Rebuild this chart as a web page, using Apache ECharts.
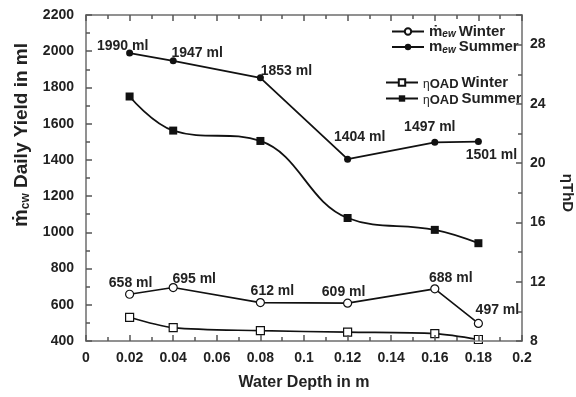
<!DOCTYPE html>
<html>
<head>
<meta charset="utf-8">
<script src="https://cdn.jsdelivr.net/npm/echarts@6/dist/echarts.min.js"></script>
<style>
  html, body { margin: 0; padding: 0; background: #fff; }
  #chart { width: 576px; height: 397px; }
</style>
</head>
<body>
<div id="chart"></div>
<script>
// water depth (m)
var depths = [0.02, 0.04, 0.08, 0.12, 0.16, 0.18];
// daily yield (ml)
var yieldWinter = [658, 695, 612, 609, 688, 497];
var yieldSummer = [1990, 1947, 1853, 1404, 1497, 1501];
// overall efficiency (%), right axis
var effWinter = [9.6, 8.9, 8.7, 8.6, 8.5, 8.1];
var effSummer = [24.5, 22.2, 21.5, 16.3, 15.5, 14.6];

// label offsets from each point
var offWinter = [[1, -11], [21, -8], [12, -11], [-4, -11], [16, -11], [19, -13]];
var offSummer = [[-7, -7], [24, -8], [26, -7], [12, -22], [-5, -15], [13, 14]];

function pairs(ys, offs) {
  return depths.map(function (d, i) {
    var item = { value: [d, ys[i]] };
    if (offs) item.label = { offset: offs[i] };
    return item;
  });
}

var font = 'Liberation Sans, Arial, sans-serif';
var axisGray = '#8a8a8a';
var tickGray = '#555';
var txt = { fontFamily: font, fontWeight: 'bold', color: '#222' };

var legendRich = {
  m: { fontFamily: font, fontWeight: 'bold', fontSize: 15, color: '#222' },
  s: { fontFamily: font, fontWeight: 'bold', fontStyle: 'italic', fontSize: 10, color: '#222', padding: [6, 0, 0, 0] },
  e: { fontFamily: font, fontSize: 12, color: '#222', padding: [4, 0, 0, 0] },
  o: { fontFamily: font, fontWeight: 'bold', fontSize: 13, color: '#222', padding: [4, 0, 0, 0] },
  t: { fontFamily: font, fontWeight: 'bold', fontSize: 15, color: '#222', padding: [0, 0, 0, 3] }
};
var legendText = {
  'mew Winter': '{m|ṁ}{s|ew}{t|Winter}',
  'mew Summer': '{m|m}{s|ew}{t|Summer}',
  'OAD Winter': '{e|η}{o|OAD}{t|Winter}',
  'OAD Summer': '{e|η}{o|OAD}{t|Summer}'
};

var labelBase = {
  show: true,
  position: 'inside',
  fontFamily: font,
  fontWeight: 'bold',
  fontSize: 14,
  color: '#222',
  formatter: function (p) { return p.value[1] + ' ml'; }
};

var plain = function (v) { return String(v); };
function tick() { return { show: true, inside: true, length: 6, lineStyle: { color: tickGray, width: 1.5 } }; }
function minor() { return { show: true, splitNumber: 2, length: 4, lineStyle: { color: tickGray, width: 1.5 } }; }

var chart = echarts.init(document.getElementById('chart'));
chart.setOption({
  backgroundColor: '#fff',
  animation: false,
  grid: {
    left: 86, right: 54, top: 15, bottom: 56,
    outerBoundsMode: 'none', containLabel: false,
    show: true, borderColor: axisGray, borderWidth: 1.5, z: -1
  },
  legend: [
    {
      data: ['mew Winter', 'mew Summer'],
      orient: 'vertical', left: 386, top: 19, itemGap: 0,
      itemWidth: 32, itemHeight: 8,
      formatter: function (n) { return legendText[n]; },
      textStyle: { rich: legendRich }
    },
    {
      data: ['OAD Winter', 'OAD Summer'],
      orient: 'vertical', left: 380, top: 70, itemGap: 0,
      itemWidth: 32, itemHeight: 8,
      formatter: function (n) { return legendText[n]; },
      textStyle: { rich: legendRich }
    }
  ],
  xAxis: [
    {
      type: 'value', min: 0, max: 0.2, interval: 0.02, z: 5,
      name: 'Water Depth in m', nameLocation: 'middle', nameGap: 34,
      nameTextStyle: Object.assign({ fontSize: 16 }, txt),
      axisLine: { show: true, onZero: false, lineStyle: { color: axisGray, width: 1.5 } },
      axisTick: tick(),
      minorTick: minor(),
      axisLabel: Object.assign({ fontSize: 14, margin: 10, formatter: plain }, txt),
      splitLine: { show: false }
    },
    {
      type: 'value', min: 0, max: 0.2, interval: 0.02, position: 'top', z: 5,
      axisLine: { show: true, onZero: false, lineStyle: { color: axisGray, width: 1.5 } },
      axisTick: tick(),
      minorTick: minor(),
      axisLabel: { show: false },
      splitLine: { show: false }
    }
  ],
  yAxis: [
    {
      type: 'value', min: 400, max: 2200, interval: 200, z: 5,
      name: '{m|ṁ}{s|cw}{n| Daily Yield in ml}', nameLocation: 'middle', nameGap: 48, nameRotate: 90,
      nameTextStyle: {
        padding: [0, 0, 0, 86],
        rich: {
          m: { fontFamily: font, fontWeight: 'bold', fontSize: 20, color: '#222' },
          s: { fontFamily: font, fontWeight: 'bold', fontSize: 12, color: '#222', padding: [8, 0, 0, 0] },
          n: { fontFamily: font, fontWeight: 'bold', fontSize: 19, color: '#222' }
        }
      },
      axisLine: { show: true, onZero: false, lineStyle: { color: axisGray, width: 1.5 } },
      axisTick: tick(),
      minorTick: minor(),
      axisLabel: Object.assign({ fontSize: 14, margin: 12, formatter: plain }, txt),
      splitLine: { show: false }
    },
    {
      type: 'value', min: 8, max: 30, interval: 4, z: 5,
      name: 'ηThD', nameLocation: 'middle', nameGap: 38, nameRotate: -90,
      nameTextStyle: Object.assign({ fontSize: 15, padding: [0, 0, 0, 30] }, txt),
      axisLine: { show: true, onZero: false, lineStyle: { color: axisGray, width: 1.5 } },
      axisTick: tick(),
      minorTick: minor(),
      axisLabel: Object.assign({ fontSize: 14, margin: 8, showMaxLabel: false }, txt),
      splitLine: { show: false }
    }
  ],
  series: [
    {
      name: 'mew Winter', type: 'line', yAxisIndex: 0,
      data: pairs(yieldWinter, offWinter),
      symbol: 'circle', symbolSize: 8,
      itemStyle: { color: '#fff', borderColor: '#111', borderWidth: 1.2 },
      lineStyle: { color: '#111', width: 1.6 },
      label: labelBase
    },
    {
      name: 'mew Summer', type: 'line', yAxisIndex: 0,
      data: pairs(yieldSummer, offSummer),
      symbol: 'circle', symbolSize: 7,
      itemStyle: { color: '#111' },
      lineStyle: { color: '#111', width: 1.8 },
      label: labelBase
    },
    {
      name: 'OAD Winter', type: 'line', yAxisIndex: 1, smooth: 0.3,
      data: pairs(effWinter),
      symbol: 'rect', symbolSize: 8,
      itemStyle: { color: '#fff', borderColor: '#111', borderWidth: 1.2 },
      lineStyle: { color: '#111', width: 1.6 }
    },
    {
      name: 'OAD Summer', type: 'line', yAxisIndex: 1, smooth: 0.4,
      data: pairs(effSummer),
      symbol: 'rect', symbolSize: 8,
      itemStyle: { color: '#111' },
      lineStyle: { color: '#111', width: 1.8 }
    }
  ]
});
</script>
</body>
</html>
